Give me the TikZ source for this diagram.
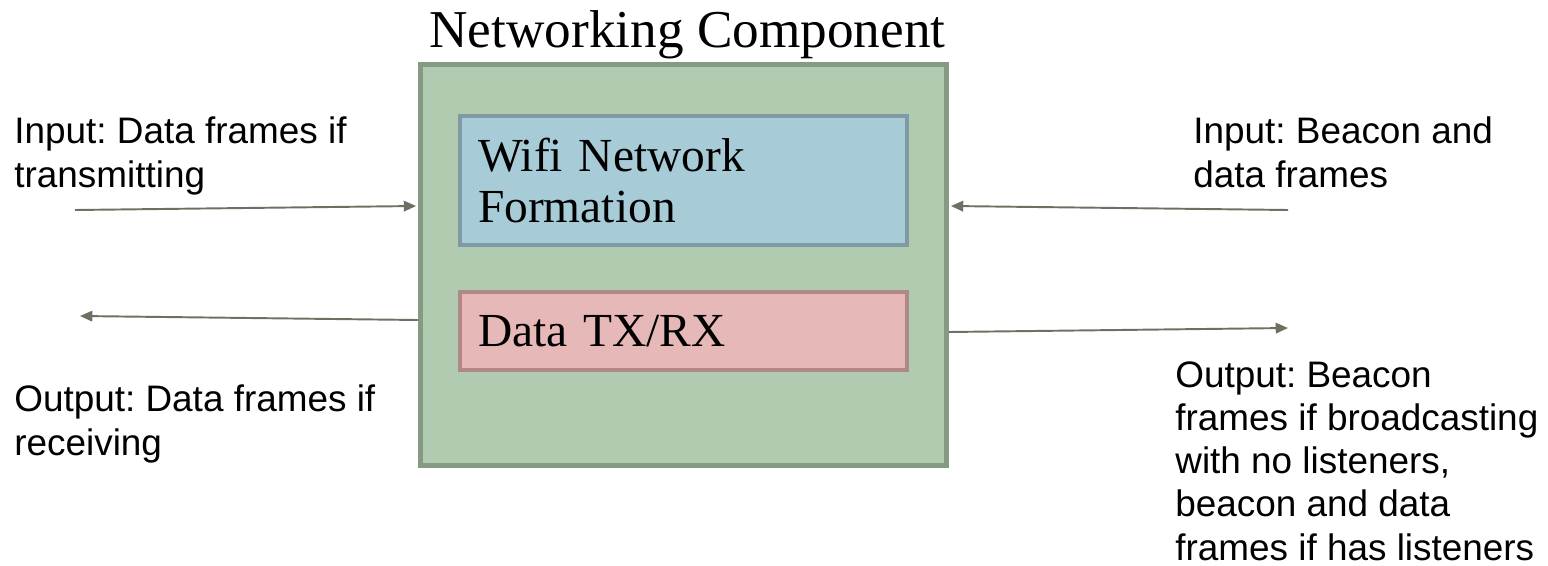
\documentclass[tikz,border=0pt]{standalone}
\usepackage{fontspec}
\setmainfont{Liberation Serif}
\setsansfont{Liberation Sans}
\usetikzlibrary{arrows.meta,calc}
\frenchspacing

\definecolor{compfill}{HTML}{B0CBB0}
\definecolor{compline}{HTML}{849A82}
\definecolor{wififill}{HTML}{A8CCD7}
\definecolor{wifiline}{HTML}{7F9AA4}
\definecolor{datafill}{HTML}{E6B8B8}
\definecolor{dataline}{HTML}{B08888}
\definecolor{arrowgray}{HTML}{6B7262}

\begin{document}
\begin{tikzpicture}[x=0.02cm, y=-0.02cm,
    flow/.style={draw=arrowgray, line width=1.1pt, -{Triangle[length=7pt,width=6pt]}},
    note/.style={font=\sffamily\fontsize{21}{25}\selectfont, align=left, anchor=north west, inner sep=0pt},
    part/.style={line width=2.3pt, minimum width=8.94cm, inner xsep=0.36cm, inner ysep=0pt,
        text width=8.22cm, align=left, font=\fontsize{27}{29.5}\selectfont}]
    \useasboundingbox (0,0) rectangle (1548,565);

    % Component box and title
    \node[draw=compline, fill=compfill, line width=2.8pt, minimum width=10.52cm, minimum height=8.02cm] (netcomp) at (683.5,265) {};
    \node[font=\fontsize{30.3}{34}\selectfont, anchor=base, inner sep=0pt] (title) at (687.5,47) {Networking Component};

    % Sub-blocks
    \node[part, draw=wifiline, fill=wififill, minimum height=2.58cm] (wifi) at (683.5,180.5) {Wifi Network\\Formation};
    \node[part, draw=dataline, fill=datafill, minimum height=1.56cm] (txrx) at (683.5,331) {Data TX/RX};

    % Labels
    \node[note] (inLtxt) at (14,116) {Input: Data frames if\\transmitting};
    \node[note] (outLtxt) at (14,384) {Output: Data frames if\\receiving};
    \node[note] (inRtxt) at (1193,116) {Input: Beacon and\\data frames};
    \node[note, font=\sffamily\fontsize{21}{24.6}\selectfont] (outRtxt) at (1175,361)
        {Output: Beacon\\frames if broadcasting\\with no listeners,\\beacon and data\\frames if has listeners};

    % Arrows
    \coordinate (inLsrc) at (75,210);
    \coordinate (outLdst) at (80,316);
    \coordinate (inRsrc) at (1288,210);
    \coordinate (outRdst) at (1288,328);
    \draw[flow] (inLsrc) -- ($(netcomp.west)+(-2,-59)$);
    \draw[flow] ($(netcomp.west)+(0,55)$) -- (outLdst);
    \draw[flow] (inRsrc) -- ($(netcomp.east)+(2,-59)$);
    \draw[flow] ($(netcomp.east)+(0,67)$) -- (outRdst);
\end{tikzpicture}
\end{document}
